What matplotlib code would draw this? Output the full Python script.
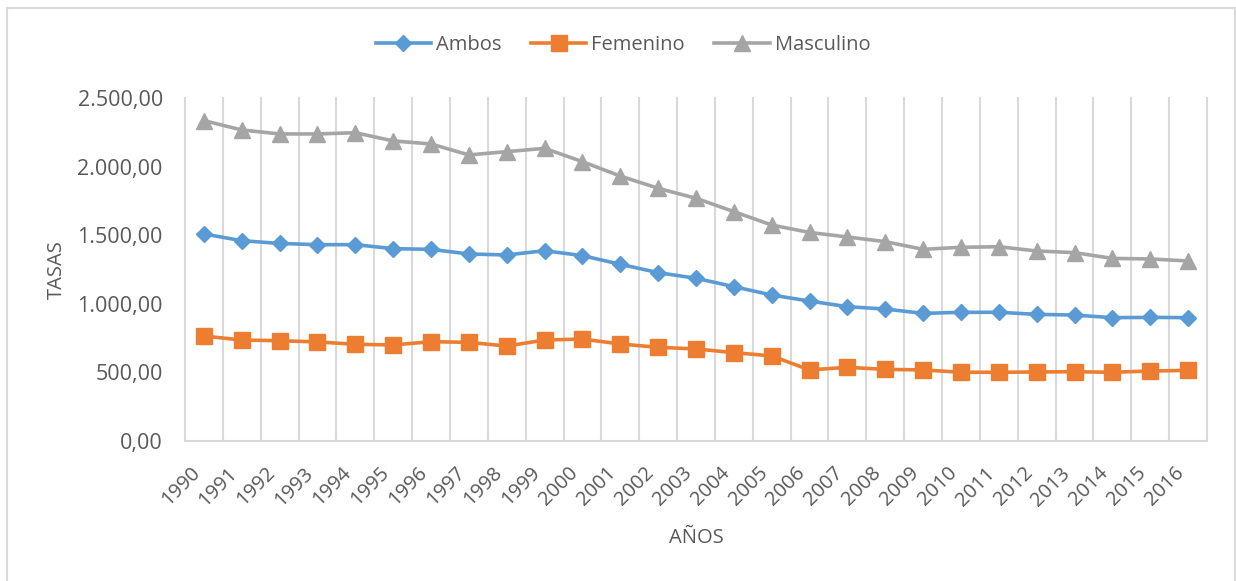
import numpy as np
import matplotlib
matplotlib.use('Agg')
import matplotlib.pyplot as plt
from matplotlib.ticker import FuncFormatter
from matplotlib.lines import Line2D

plt.rcParams['font.family'] = ['Open Sans', 'DejaVu Sans']

anios = [str(a) for a in range(1990, 2017)]
ambos = [1509, 1460, 1440, 1431, 1431, 1402, 1397, 1363, 1356, 1387, 1351, 1288, 1227,
         1186, 1125, 1064, 1020, 979, 962, 930, 938, 938, 923, 918, 899, 901, 899]
femenino = [765, 736, 731, 722, 705, 700, 724, 719, 692, 736, 743, 707, 683,
            671, 644, 620, 518, 537, 522, 518, 501, 501, 503, 505, 501, 510, 515]
masculino = [2335, 2267, 2238, 2238, 2247, 2187, 2165, 2085, 2109, 2133, 2036, 1931, 1842,
             1769, 1672, 1574, 1520, 1487, 1453, 1397, 1412, 1416, 1385, 1373, 1331, 1327, 1312]

texto = '#595959'
rejilla = '#D9D9D9'

fig = plt.figure(figsize=(12.36, 5.81), dpi=100)
ax = fig.add_axes([185/1236, 1 - 441/581, (1207-185)/1236, (441-98)/581])

x = np.arange(len(anios))
ax.plot(x, ambos, color='#5B9BD5', lw=2.6, marker='D', ms=8.5, label='Ambos')
ax.plot(x, femenino, color='#ED7D31', lw=2.6, marker='s', ms=11.5, label='Femenino')
ax.plot(x, masculino, color='#A5A5A5', lw=2.6, marker='^', ms=12, label='Masculino')

ax.set_xlim(-0.5, len(anios) - 0.5)
ax.set_ylim(0, 2500)
ax.set_yticks(np.arange(0, 2501, 500))
ax.yaxis.set_major_formatter(FuncFormatter(
    lambda v, p: f'{v:,.2f}'.replace(',', 'X').replace('.', ',').replace('X', '.')))

ax.set_xticks(x)
ax.set_xticklabels(anios, rotation=45, ha='right', va='top')
ax.set_xticks(np.arange(-0.5, len(anios)), minor=True)
ax.grid(True, which='minor', axis='x', color=rejilla, lw=1.5, clip_on=False)
ax.tick_params(axis='x', which='both', length=0, pad=16, colors=texto, labelsize=14.5)
ax.tick_params(axis='y', length=0, pad=16, colors=texto, labelsize=15.5)

for s in ['top', 'right', 'left']:
    ax.spines[s].set_visible(False)
ax.spines['bottom'].set_color(rejilla)
ax.spines['bottom'].set_linewidth(1.5)

ax.set_ylabel('TASAS', color=texto, fontsize=14.5)
ax.yaxis.set_label_coords(-0.116, 0.5)
ax.set_xlabel('AÑOS', color=texto, fontsize=14.5)
ax.xaxis.set_label_coords(0.5, -0.254)

fig.legend(loc='center', bbox_to_anchor=(623/1236, 1 - 45/581), ncol=3, frameon=False,
           fontsize=14.5, labelcolor=texto, handlelength=2.75, handletextpad=0.25,
           columnspacing=1.45)

# borde del area del grafico
for xs, ys in [([7/1236, 7/1236], [0, 1 - 8/581]),
               ([7/1236, 1235/1236], [1 - 8/581, 1 - 8/581]),
               ([1235/1236, 1235/1236], [0, 1 - 8/581])]:
    fig.add_artist(Line2D(xs, ys, color=rejilla, lw=1.5, transform=fig.transFigure))

fig.savefig('out.png', dpi=100)
